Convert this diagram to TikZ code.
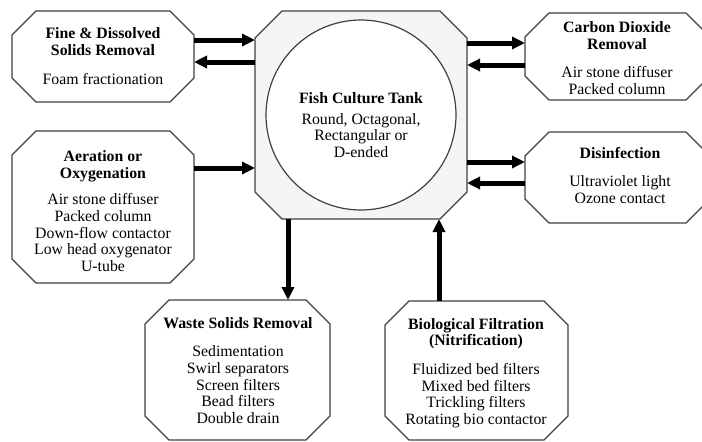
\documentclass[tikz,border=0pt]{standalone}
\usepackage{fontspec}
\setmainfont{Liberation Serif}
\usetikzlibrary{arrows.meta}
\newcommand\drawoct[3][]{%
  \draw[boxline,#1] ([xshift=#3]#2.north west) -- ([xshift=-#3]#2.north east)
    -- ([yshift=-#3]#2.north east) -- ([yshift=#3]#2.south east)
    -- ([xshift=-#3]#2.south east) -- ([xshift=#3]#2.south west)
    -- ([yshift=#3]#2.south west) -- ([yshift=-#3]#2.north west) -- cycle;}
\begin{document}
\begin{tikzpicture}[x=1pt,y=-1pt,
  frame/.style={rectangle,draw=none,inner sep=0pt,outer sep=0pt},
  boxline/.style={draw=black!75,line width=1.3pt,fill=white},
  txt/.style={align=center,inner sep=0pt,font=\fontsize{15.8}{16.7}\selectfont},
  arr/.style={line width=5pt,-{Triangle[length=13pt,width=12pt]}}]
\useasboundingbox (0,0) rectangle (702,442);
% boxes
\node[frame,minimum width=182pt,minimum height=91pt] (fine) at (103,56.5) {};
\node[frame,minimum width=182pt,minimum height=152pt] (aer) at (103,207) {};
\node[frame,minimum width=212pt,minimum height=208pt] (tank) at (361,115) {};
\node[frame,minimum width=185pt,minimum height=87pt] (co2) at (617.5,56.5) {};
\node[frame,minimum width=185pt,minimum height=91pt] (dis) at (617.5,177.5) {};
\node[frame,minimum width=185pt,minimum height=140pt] (waste) at (237.5,370) {};
\node[frame,minimum width=183pt,minimum height=139pt] (bio) at (476.5,370.5) {};
\drawoct{fine}{24pt}
\drawoct{aer}{24pt}
\drawoct[fill=black!4]{tank}{27pt}
\drawoct{co2}{24pt}
\drawoct{dis}{24pt}
\drawoct{waste}{24pt}
\drawoct{bio}{24pt}
\node[circle,draw=black!75,line width=1.2pt,fill=white,minimum size=190pt,inner sep=0pt] (round) at (361,115) {};
% texts
\node[txt] (fine-t) at (103,56) {\textbf{Fine \& Dissolved}\\\textbf{Solids Removal}\\[12pt]Foam fractionation};
\node[txt] (aer-t) at (103,211) {\textbf{Aeration or}\\\textbf{Oxygenation}\\[10pt]Air stone diffuser\\Packed column\\Down-flow contactor\\Low head oxygenator\\U-tube};
\node[txt] (tank-t) at (361,125) {\textbf{Fish Culture Tank}\\[4pt]Round, Octagonal,\\Rectangular or\\D-ended};
\node[txt] (co2-t) at (617,58) {\textbf{Carbon Dioxide}\\\textbf{Removal}\\[12pt]Air stone diffuser\\Packed column};
\node[txt] (dis-t) at (620,175.5) {\textbf{Disinfection}\\[12pt]Ultraviolet light\\Ozone contact};
\node[txt] (waste-t) at (238,370.5) {\textbf{Waste Solids Removal}\\[12pt]Sedimentation\\Swirl separators\\Screen filters\\Bead filters\\Double drain};
\node[txt] (bio-t) at (476,373) {\textbf{Biological Filtration}\\\textbf{(Nitrification)}\\[12pt]Fluidized bed filters\\Mixed bed filters\\Trickling filters\\Rotating bio contactor};
% arrow levels
\coordinate (l1) at (0,40);
\coordinate (l2) at (0,62);
\coordinate (l3) at (0,168);
\coordinate (r1) at (0,43);
\coordinate (r2) at (0,65);
\coordinate (r3) at (0,162);
\coordinate (r4) at (0,183);
\coordinate (d1) at (288,0);
\coordinate (d2) at (439,0);
\draw[arr] (fine.east |- l1) -- (tank.west |- l1);
\draw[arr] (tank.west |- l2) -- (fine.east |- l2);
\draw[arr] (aer.east |- l3) -- (tank.west |- l3);
\draw[arr] (tank.east |- r1) -- (co2.west |- r1);
\draw[arr] (co2.west |- r2) -- (tank.east |- r2);
\draw[arr] (tank.east |- r3) -- (dis.west |- r3);
\draw[arr] (dis.west |- r4) -- (tank.east |- r4);
\draw[arr] (tank.south -| d1) -- (waste.north -| d1);
\draw[arr] (bio.north -| d2) -- (tank.south -| d2);
\end{tikzpicture}
\end{document}
